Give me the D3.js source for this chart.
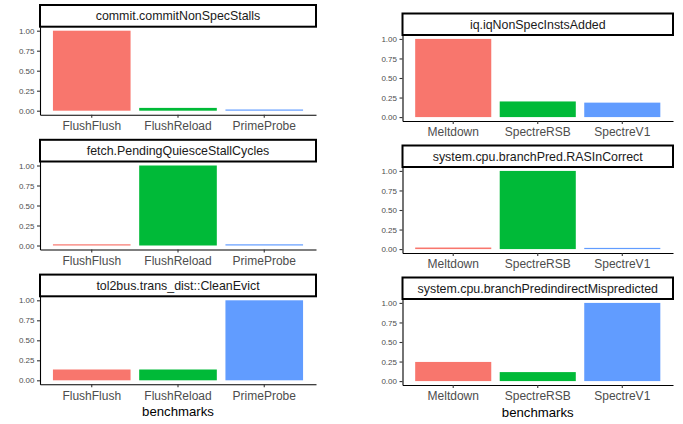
<!DOCTYPE html>
<html>
<head>
<meta charset="utf-8">
<script src="https://cdn.jsdelivr.net/npm/d3@7"></script>
<style>
  html, body { margin: 0; padding: 0; background: #fff; }
  svg { display: block; font-family: "Liberation Sans", Arial, Helvetica, sans-serif; }
</style>
</head>
<body>
<svg id="chart" width="683" height="424"></svg>
<script>
// Benchmark groups (one per column)
const cacheBenchmarks = ["FlushFlush", "FlushReload", "PrimeProbe"];
const spectreBenchmarks = ["Meltdown", "SpectreRSB", "SpectreV1"];

// Counter names shown in each facet strip
const cacheMetrics = [
  "commit.commitNonSpecStalls",
  "fetch.PendingQuiesceStallCycles",
  "tol2bus.trans_dist::CleanEvict"
];
const spectreMetrics = [
  "iq.iqNonSpecInstsAdded",
  "system.cpu.branchPred.RASInCorrect",
  "system.cpu.branchPredindirectMispredicted"
];

// Normalised counter values, one row per metric, one entry per benchmark
const cacheValues = [
  [1.00, 0.035, 0.008],
  [0.01, 1.00, 0.008],
  [0.135, 0.135, 1.00]
];
const spectreValues = [
  [1.00, 0.20, 0.185],
  [0.02, 1.00, 0.008],
  [0.245, 0.115, 1.00]
];

const yTickValues = [0, 0.25, 0.5, 0.75, 1.0];
const benchmarkColors = ["#F8766D", "#00BA38", "#619CFF"];
const xTitle = "benchmarks";

// Column geometry
const columns = [
  { benchmarks: cacheBenchmarks, metrics: cacheMetrics, values: cacheValues,
    x0: 40, x1: 316, top: 5, pitch: 134.8, stripH: 21.7, panelH: 88 },
  { benchmarks: spectreBenchmarks, metrics: spectreMetrics, values: spectreValues,
    x0: 402.5, x1: 673, top: 13.5, pitch: 132, stripH: 21.5, panelH: 86 }
];

const svg = d3.select("#chart");
const fmt = d3.format(".2f");

columns.forEach(col => {
  const color = d3.scaleOrdinal().domain(col.benchmarks).range(benchmarkColors);
  const x = d3.scaleBand()
    .domain(col.benchmarks)
    .range([col.x0, col.x1])
    .paddingInner(0.1)
    .paddingOuter(0.15);

  col.metrics.forEach((metric, i) => {
    const stripTop = col.top + i * col.pitch;
    const panelTop = stripTop + col.stripH;
    const panelBottom = panelTop + col.panelH;

    const y = d3.scaleLinear().domain([-0.05, 1.05]).range([panelBottom, panelTop]);
    const g = svg.append("g");

    const rows = col.benchmarks.map((b, j) => ({ bench: b, value: col.values[i][j] }));

    // bars
    g.selectAll("rect.bar")
      .data(rows)
      .join("rect")
      .attr("class", "bar")
      .attr("x", d => x(d.bench))
      .attr("width", x.bandwidth())
      .attr("y", d => Math.min(y(d.value), y(0) - 1.2))
      .attr("height", d => Math.max(1.2, y(0) - y(d.value)))
      .attr("fill", d => color(d.bench));

    // y axis
    const yAxis = g.append("g")
      .attr("transform", `translate(${col.x0},0)`)
      .call(d3.axisLeft(y).tickValues(yTickValues).tickFormat(fmt)
        .tickSize(3).tickSizeOuter(0).tickPadding(2.5));
    yAxis.select(".domain").attr("stroke", "#000").attr("stroke-width", 1.1);
    yAxis.selectAll(".tick line").attr("stroke", "#333").attr("stroke-width", 1.1);
    yAxis.selectAll(".tick text")
      .attr("fill", "#4D4D4D")
      .style("font-size", "8px")
      .style("font-family", "'Liberation Sans', Arial, sans-serif");

    // x axis
    const xAxis = g.append("g")
      .attr("transform", `translate(0,${panelBottom})`)
      .call(d3.axisBottom(x).tickSize(3).tickSizeOuter(0).tickPadding(3.8));
    xAxis.select(".domain").attr("stroke", "#000").attr("stroke-width", 1.1);
    xAxis.selectAll(".tick line").attr("stroke", "#333").attr("stroke-width", 1.1);
    xAxis.selectAll(".tick text")
      .attr("fill", "#4D4D4D")
      .style("font-size", "12px")
      .style("font-family", "'Liberation Sans', Arial, sans-serif");

    // facet strip
    g.append("rect")
      .attr("x", col.x0)
      .attr("y", stripTop)
      .attr("width", col.x1 - col.x0)
      .attr("height", col.stripH)
      .attr("fill", "#fff")
      .attr("stroke", "#000")
      .attr("stroke-width", 2);
    g.append("text")
      .attr("x", (col.x0 + col.x1) / 2)
      .attr("y", stripTop + col.stripH / 2)
      .attr("dy", "0.36em")
      .attr("text-anchor", "middle")
      .attr("fill", "#1A1A1A")
      .style("font-size", "12.4px")
      .text(metric);

    // axis title under the last panel
    if (i === col.metrics.length - 1) {
      g.append("text")
        .attr("x", (col.x0 + col.x1) / 2)
        .attr("y", panelBottom + 31.5)
        .attr("text-anchor", "middle")
        .attr("fill", "#000")
        .style("font-size", "13.2px")
        .text(xTitle);
    }
  });
});
</script>
</body>
</html>
